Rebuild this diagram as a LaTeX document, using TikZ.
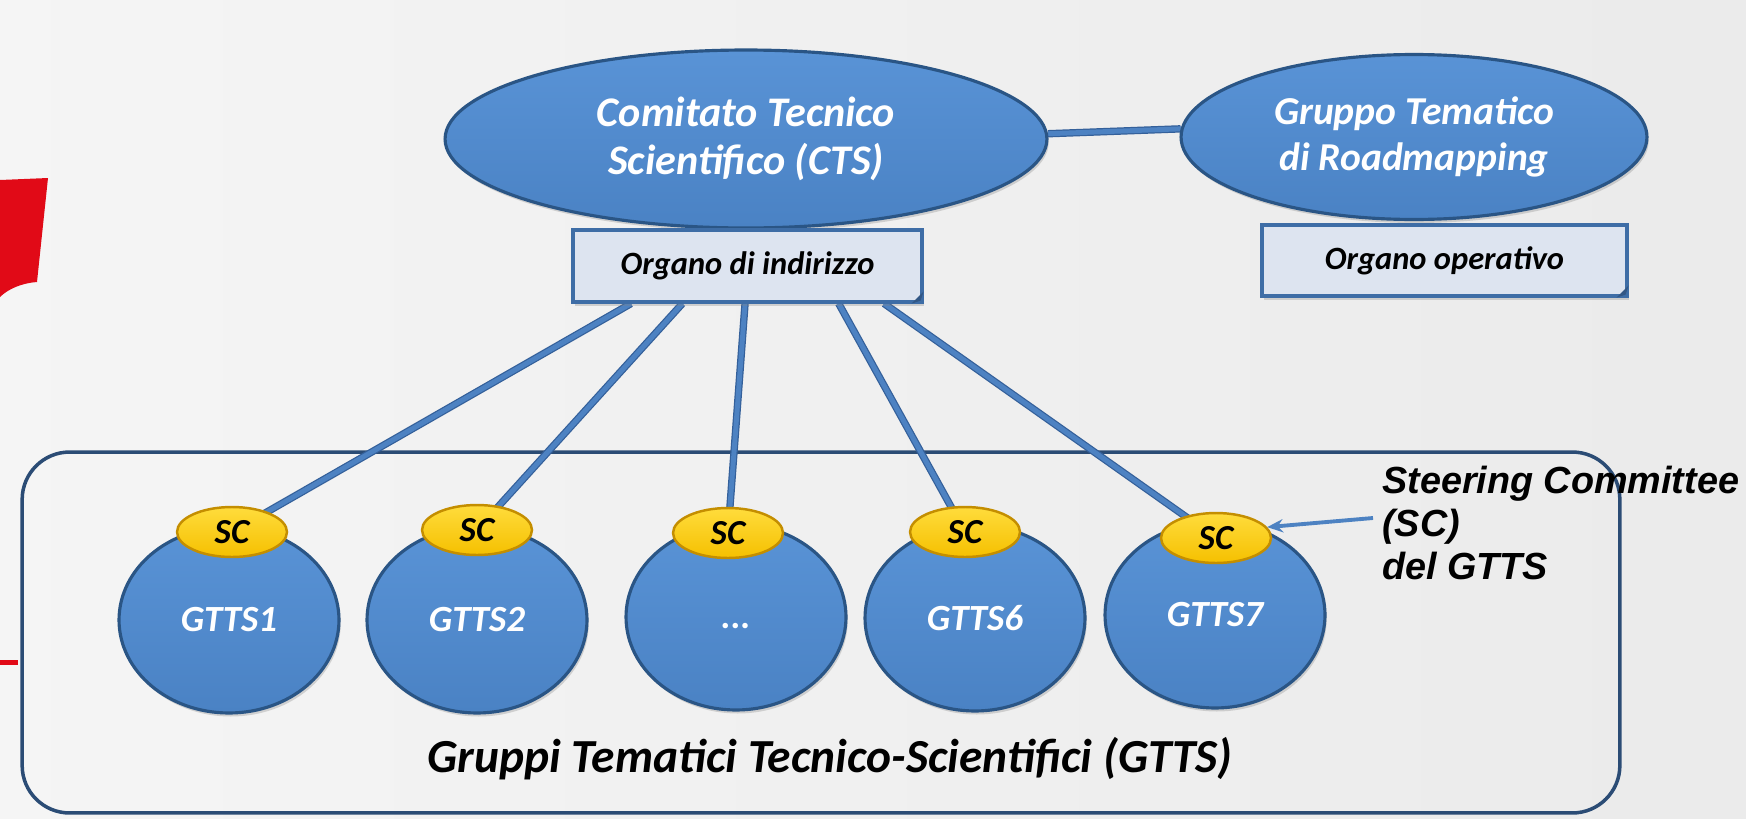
\documentclass[tikz,border=0pt]{standalone}
\usepackage{fontspec}
\setmainfont{Carlito}
\newfontfamily\arialf{Liberation Sans}
\usetikzlibrary{shapes.geometric,shadows,calc,arrows.meta}
\definecolor{ellfill}{HTML}{4A82C4}
\definecolor{ellfilltop}{HTML}{5993D6}
\definecolor{ellborder}{HTML}{2A5585}
\definecolor{scfill}{HTML}{F5C000}
\definecolor{scfilltop}{HTML}{FFDC3C}
\definecolor{scborder}{HTML}{C48E00}
\definecolor{boxfill}{HTML}{DDE4F0}
\definecolor{boxborder}{HTML}{3E6DA6}
\definecolor{linefill}{HTML}{4D82C2}
\definecolor{lineedge}{HTML}{34609A}
\definecolor{logored}{HTML}{E10A17}
\definecolor{framecol}{HTML}{2B4C75}
\pgfdeclarelayer{bg}
\pgfdeclarelayer{lines}
\pgfsetlayers{bg,lines,main}
\begin{document}
\begin{tikzpicture}[x=0.02cm,y=-0.02cm,
  softshadow/.style={drop shadow={shadow xshift=1pt,shadow yshift=-2pt,opacity=0.3}},
  bigell/.style={ellipse,draw=ellborder,line width=1.8pt,top color=ellfilltop,bottom color=ellfill,
    text=white,align=center,inner sep=0pt,softshadow},
  orgbox/.style={rectangle,draw=boxborder,line width=1.8pt,fill=boxfill,
    font=\fontsize{18.5}{21}\selectfont\bfseries\itshape,inner sep=0pt,softshadow},
  gtts/.style={ellipse,draw=ellborder,line width=1.8pt,top color=ellfilltop,bottom color=ellfill,
    minimum width=4.4cm,minimum height=3.72cm,inner sep=0pt,text=white,
    font=\fontsize{21}{25}\selectfont\bfseries\itshape,softshadow},
  scnode/.style={ellipse,draw=scborder,line width=1.4pt,top color=scfilltop,bottom color=scfill,
    minimum width=2.2cm,minimum height=1.0cm,inner sep=0pt,
    font=\fontsize{20}{22}\selectfont\bfseries\itshape},
  conn/.style={draw=lineedge,line width=0.7pt,double=linefill,double distance=2.8pt},
  framebox/.style={rectangle,draw=framecol,line width=2pt,rounded corners=0.95cm},
  arrowline/.style={draw=linefill,line width=2.2pt,-{Stealth[length=9pt,width=7.5pt]}},
  foldmark/.style={fill=boxborder!80!black}
]
\useasboundingbox (0,0) rectangle (1746,818);
\begin{pgfonlayer}{bg}
  \shade[left color=black!4,middle color=white,right color=black!8] (0,0) rectangle (1746,818);
  \fill[logored] (0,180) -- (48,178) -- (37,282) .. controls (22,283) and (8,289) .. (0,297) -- cycle;
  \fill[logored] (0,660) rectangle (18,665);
  \node[framebox,minimum width=31.96cm,minimum height=7.22cm] (grp) at (821,632.5) {};
\end{pgfonlayer}

\node[bigell,minimum width=12.04cm,minimum height=3.56cm,font=\fontsize{24}{27}\selectfont\bfseries\itshape] (cts) at (746,139) {Comitato Tecnico\\Scientifico (CTS)};
\node[bigell,minimum width=9.32cm,minimum height=3.3cm,font=\fontsize{22.5}{26}\selectfont\bfseries\itshape] (gt) at (1414,137) {Gruppo Tematico\\di Roadmapping};
\node[orgbox,minimum width=6.98cm,minimum height=1.44cm] (oi) at (747.5,266) {Organo di indirizzo};
\node[orgbox,minimum width=7.3cm,minimum height=1.42cm] (oo) at (1444.5,260.5) {Organo operativo};
\fill[foldmark] ($(oi.south east)+(-12,0)$) -- ($(oi.south east)+(0,-12)$) -- ($(oi.south east)+(-3,-3)$) -- cycle;
\fill[foldmark] ($(oo.south east)+(-12,0)$) -- ($(oo.south east)+(0,-12)$) -- ($(oo.south east)+(-3,-3)$) -- cycle;

\node[gtts] (g1) at (229,620) {GTTS1};
\node[gtts] (g2) at (477,620) {GTTS2};
\node[gtts] (g3) at (736,617) {\vphantom{G}...};
\node[gtts] (g6) at (975,618) {GTTS6};
\node[gtts] (g7) at (1215,615) {GTTS7};

\node[scnode] (s1) at (232,532) {SC};
\node[scnode] (s2) at (477,530) {SC};
\node[scnode] (s3) at (728,533) {SC};
\node[scnode] (s6) at (965,532) {SC};
\node[scnode] (s7) at (1216,538) {SC};

\node[font=\fontsize{27}{31}\selectfont\bfseries\itshape,inner sep=0pt] (glab) at (830,759) {Gruppi Tematici Tecnico-Scientifici (GTTS)};

\node[anchor=north west,inner sep=0pt,align=left,font=\arialf\fontsize{21.5}{24.5}\selectfont\bfseries\itshape] (steer) at (1382,466) {Steering Committee\\(SC)\\del GTTS};
\coordinate (arrs) at (1373,518);
\draw[arrowline] (arrs) -- (s7.12);

\begin{pgfonlayer}{lines}
  \draw[conn] (cts.1.5) -- (gt.178);
  \draw[conn] ($(oi.south west)!0.169!(oi.south east)$) -- (s1.center);
  \draw[conn] ($(oi.south west)!0.315!(oi.south east)$) -- (s2.center);
  \draw[conn] ($(oi.south west)!0.493!(oi.south east)$) -- (s3.center);
  \draw[conn] ($(oi.south west)!0.759!(oi.south east)$) -- (s6.center);
  \draw[conn] ($(oi.south west)!0.888!(oi.south east)$) -- (s7.center);
\end{pgfonlayer}
\end{tikzpicture}
\end{document}
